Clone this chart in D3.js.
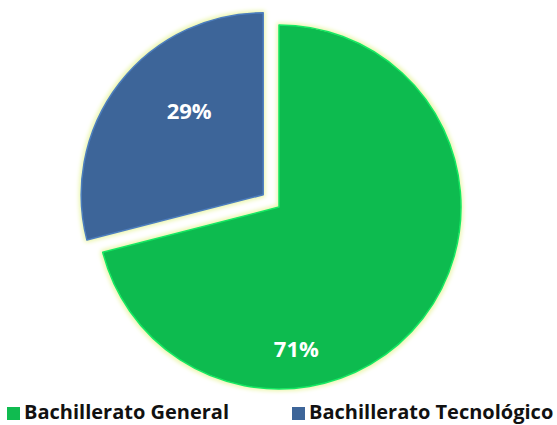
<!DOCTYPE html>
<html>
<head>
<meta charset="utf-8">
<script src="https://cdn.jsdelivr.net/npm/d3@7"></script>
<style>
  body { margin: 0; background: #fff; }
  svg { display: block; }
  text { font-family: "Open Sans", "DejaVu Sans", sans-serif; font-weight: bold; }
</style>
</head>
<body>
<svg id="chart"></svg>
<script>
// Chart data
var categories = ["Bachillerato General", "Bachillerato Tecnológico"],
    values = [71, 29],
    labels = ["71%", "29%"];

var colors = ["#10bb50", "#3d6599"],
    w = 557,
    h = 425,
    cx = 279,          // pie centre
    cy = 207,
    rad = 182,         // pie radius
    explode = 20;      // offset of the pulled-out slice

var svg = d3.select("#chart").attr("width", w).attr("height", h);

var defs = svg.append("defs");
// pale outer glow round each slice
var glow = defs.append("filter").attr("id", "glow")
    .attr("x", "-10%").attr("y", "-10%").attr("width", "120%").attr("height", "120%");
glow.append("feMorphology").attr("in", "SourceAlpha").attr("operator", "dilate").attr("radius", 1.5).attr("result", "d");
glow.append("feGaussianBlur").attr("in", "d").attr("stdDeviation", 2.2).attr("result", "b");
glow.append("feFlood").attr("flood-color", "#eaf5a8").attr("result", "c");
glow.append("feComposite").attr("in", "c").attr("in2", "b").attr("operator", "in").attr("result", "g");
var m = glow.append("feMerge");
m.append("feMergeNode").attr("in", "g");
m.append("feMergeNode").attr("in", "SourceGraphic");

var pie = d3.pie().sort(null).value(function (d) { return d; });
var arcs = pie(values);

var arc = d3.arc().innerRadius(0).outerRadius(rad);

// offset for each slice: only the second slice is pulled out
function offset(d, i) {
    if (i === 0) return [0, 0];
    var a = (d.startAngle + d.endAngle) / 2;
    return [Math.sin(a) * explode, -Math.cos(a) * explode];
}

var slices = svg.selectAll("g.slice")
    .data(arcs)
    .enter()
    .append("g")
    .attr("class", "slice")
    .attr("transform", function (d, i) {
        var o = offset(d, i);
        return "translate(" + (cx + o[0]) + "," + (cy + o[1]) + ")";
    });

slices.append("path")
    .attr("d", arc)
    .attr("fill", function (d, i) { return colors[i]; })
    .attr("filter", "url(#glow)");

// thin bevel highlight on the edges
slices.append("path")
    .attr("d", arc)
    .attr("fill", "none")
    .attr("stroke", function (d, i) { return d3.color(colors[i]).brighter(0.6); })
    .attr("stroke-width", 1.5)
    .attr("stroke-linejoin", "round");

// label positions (angle from top, distance from slice apex)
var labelAngle = [173 * Math.PI / 180, 319 * Math.PI / 180],
    labelDist = [0.78 * rad, 0.62 * rad];

slices.append("text")
    .attr("x", function (d, i) { return Math.sin(labelAngle[i]) * labelDist[i]; })
    .attr("y", function (d, i) { return -Math.cos(labelAngle[i]) * labelDist[i]; })
    .attr("text-anchor", "middle")
    .attr("dominant-baseline", "central")
    .attr("fill", "#fff")
    .style("font-size", "22px")
    .text(function (d, i) { return labels[i]; });

// Legend
var legendX = [7, 292];
var legend = svg.selectAll("g.legend")
    .data(categories)
    .enter()
    .append("g")
    .attr("class", "legend")
    .attr("transform", function (d, i) { return "translate(" + legendX[i] + ",419)"; });

legend.append("rect")
    .attr("x", 0).attr("y", -12)
    .attr("width", 13).attr("height", 13)
    .attr("fill", function (d, i) { return colors[i]; });

legend.append("text")
    .attr("x", 17)
    .attr("y", 0)
    .attr("fill", "#111")
    .style("font-size", "20px")
    .text(function (d) { return d; });
</script>
</body>
</html>
